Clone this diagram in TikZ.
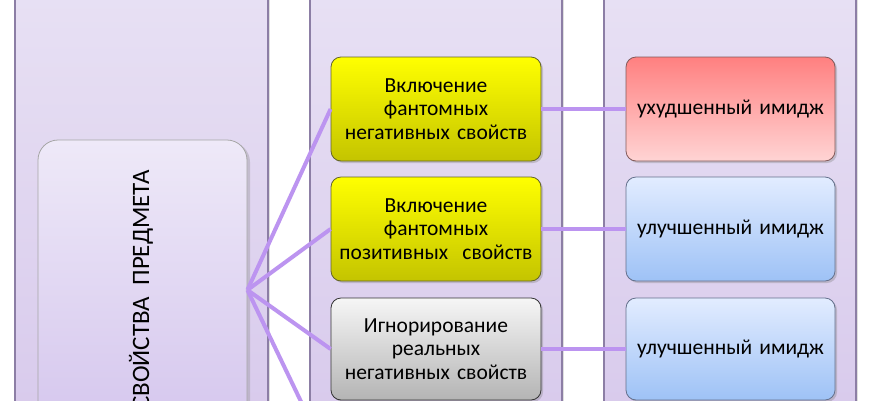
\documentclass[tikz,border=0pt]{standalone}
\usepackage{fontspec}
\setmainfont{Carlito}
\usetikzlibrary{shadows}
\definecolor{panelTop}{RGB}{232,225,244}
\definecolor{panelBot}{RGB}{216,202,236}
\definecolor{panelEdge}{RGB}{140,126,165}
\definecolor{coreTop}{RGB}{238,233,248}
\definecolor{coreBot}{RGB}{212,197,237}
\definecolor{yelTop}{RGB}{255,255,0}
\definecolor{yelBot}{RGB}{196,196,0}
\definecolor{yelEdge}{RGB}{100,100,40}
\definecolor{grayTop}{RGB}{246,246,246}
\definecolor{grayBot}{RGB}{180,180,180}
\definecolor{redTop}{RGB}{255,128,128}
\definecolor{redBot}{RGB}{255,212,212}
\definecolor{redEdge}{RGB}{130,90,90}
\definecolor{bluTop}{RGB}{226,236,255}
\definecolor{bluBot}{RGB}{158,194,246}
\definecolor{bluEdge}{RGB}{100,112,140}
\definecolor{linkCol}{RGB}{188,148,240}
\tikzset{
  panelbox/.style={draw=panelEdge, line width=1.2pt, top color=panelTop, bottom color=panelBot,
    drop shadow={shadow xshift=2pt, shadow yshift=0pt, opacity=0.25}},
  corebox/.style={draw=gray!70, line width=0.8pt, rounded corners=20pt, top color=coreTop, bottom color=coreBot,
    minimum width=209pt, minimum height=300pt, inner sep=0pt,
    drop shadow={shadow xshift=3pt, shadow yshift=-2pt, opacity=0.3}},
  stepbox/.style={rounded corners=10pt, line width=0.8pt, minimum width=210pt, minimum height=104pt,
    inner sep=0pt, align=center, text width=205pt, font=\fontsize{21.5pt}{23.5pt}\selectfont,
    drop shadow={shadow xshift=2pt, shadow yshift=-2pt, opacity=0.35}},
  yelbox/.style={stepbox, draw=yelEdge, top color=yelTop, bottom color=yelBot},
  graybox/.style={stepbox, draw=black!80, top color=grayTop, bottom color=grayBot},
  redbox/.style={stepbox, draw=redEdge, top color=redTop, bottom color=redBot},
  blubox/.style={stepbox, draw=bluEdge, top color=bluTop, bottom color=bluBot},
  link/.style={draw=linkCol, line width=4pt}
}
\begin{document}
\begin{tikzpicture}[x=1pt,y=-1pt]
\useasboundingbox (0,0) rectangle (870,400);
\clip (0,0) rectangle (870,400);
\fill[white] (0,0) rectangle (870,400);
% panels
\path[panelbox] (15,-20) rectangle (268,420);
\path[panelbox] (310,-20) rectangle (562,420);
\path[panelbox] (604,-20) rectangle (856,420);
% core box
\node[corebox] (core) at (142.5,290) {};
\node[rotate=90, font=\fontsize{25pt}{30pt}\selectfont] (title) at (141,290) {СВОЙСТВА\ \ ПРЕДМЕТА};
% middle column
\node[yelbox] (a1) at (436,109) {Включение\\фантомных\\негативных свойств};
\node[yelbox] (a2) at (436,229) {Включение\\фантомных\\позитивных\ \ свойств};
\node[graybox, minimum height=102pt] (a3) at (436,349) {Игнорирование\\реальных\\негативных свойств};
\coordinate (a4) at (331,464);
% right column
\node[redbox, minimum width=209pt] (b1) at (730.5,109) {ухудшенный имидж};
\node[blubox, minimum width=209pt] (b2) at (730.5,229) {улучшенный имидж};
\node[blubox, minimum width=209pt, minimum height=102pt] (b3) at (730.5,349) {улучшенный имидж};
% connectors
\draw[link] (core.east) -- (a1.west);
\draw[link] (core.east) -- (a2.west);
\draw[link] (core.east) -- (a3.west);
\draw[link] (core.east) -- (a4);
\draw[link] (a1.east) -- (b1.west);
\draw[link] (a2.east) -- (b2.west);
\draw[link] (a3.east) -- (b3.west);
\end{tikzpicture}
\end{document}
